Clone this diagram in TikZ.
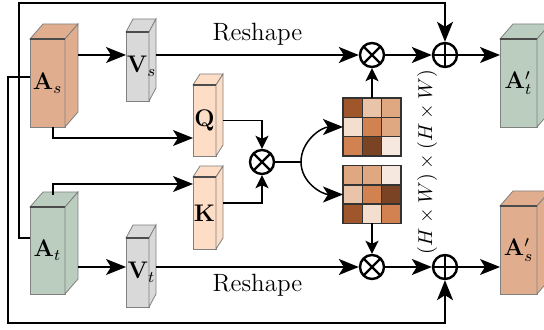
\documentclass[tikz,border=0pt]{standalone}
\usepackage{amsmath, amssymb}
\usepackage{xcolor}
\usepackage{tikz}
\usetikzlibrary{positioning, arrows.meta, calc}
\definecolor{srcbrown}{RGB}{224, 174, 142}
\definecolor{tgtgreen}{RGB}{187, 205, 191}
\definecolor{valgray}{RGB}{217, 217, 217}
\definecolor{qkpeach}{RGB}{253, 221, 198}
\definecolor{mapA}{RGB}{158, 86, 42}
\definecolor{mapB}{RGB}{122, 68, 36}
\definecolor{mapC}{RGB}{210, 130, 80}
\definecolor{mapD}{RGB}{223, 168, 128}
\definecolor{mapE}{RGB}{234, 196, 168}
\definecolor{mapF}{RGB}{244, 222, 206}
\definecolor{mapG}{RGB}{246, 232, 222}
\tikzset{
  face/.style={fill=#1, draw=black!50, line width=0.4pt},
  front/.style={face=#1, inner sep=0pt, outer sep=0pt},
  op/.style={circle, draw, line width=1.2pt, minimum size=12pt, inner sep=0pt},
  prodop/.style={op, path picture={
      \draw[line width=1.1pt] (path picture bounding box.north west) -- (path picture bounding box.south east)
        (path picture bounding box.south west) -- (path picture bounding box.north east);}},
  sumop/.style={op, path picture={
      \draw[line width=1.1pt] (path picture bounding box.north) -- (path picture bounding box.south)
        (path picture bounding box.west) -- (path picture bounding box.east);}},
  ln/.style={line width=0.75pt},
  arr/.style={ln, -{Stealth[length=10pt, width=8pt, inset=2.5pt]}},
  arrs/.style={ln, -{Stealth[length=6.5pt, width=6.5pt, inset=1.5pt]}},
  attmap/.style={minimum size=29pt, inner sep=0pt, outer sep=0pt},
  cell/.style={fill=#1, draw=black!80, line width=0.8pt},
  lbl/.style={inner sep=0pt, font=\fontsize{12}{14}\selectfont},
}
% top and side faces of a feature block, then its label on top
\newcommand{\cubefaces}[5]{%
  \filldraw[face=#4] (#1.north west) -- ++(#2,#3) -- ($(#1.north east)+(#2,#3)$) -- (#1.north east) -- cycle;
  \filldraw[face=#4] (#1.north east) -- ($(#1.north east)+(#2,#3)$) -- ($(#1.south east)+(#2,#3)$) -- (#1.south east) -- cycle;
  \draw[black!70, line width=0.8pt] (#1.north west) -- (#1.north east);
  \node[lbl] (#1-lbl) at (#1.center) {#5};
}

\begin{document}
\begin{tikzpicture}[x=0.5pt, y=-0.5pt, font=\fontsize{12.5}{15}\selectfont]
  \useasboundingbox (0,0) rectangle (544,330);
  % Source and target features
  \node[front=srcbrown, minimum width=17.5pt, minimum height=44pt] (As) at (47.5,83) {};
  \cubefaces{As}{13}{-15}{srcbrown}{$\mathbf{A}_s$}
  \node[front=tgtgreen, minimum width=17.5pt, minimum height=43.5pt] (At) at (47.5,250.5) {};
  \cubefaces{At}{13}{-15}{tgtgreen}{$\mathbf{A}_t$}
  % Values
  \node[front=valgray, minimum width=11.5pt, minimum height=34.5pt] (Vs) at (137.5,66.5) {};
  \cubefaces{Vs}{7}{-13}{valgray}{\hspace{4pt}$\mathbf{V}_s$}
  \node[front=valgray, minimum width=11.5pt, minimum height=34.5pt] (Vt) at (137.5,272.5) {};
  \cubefaces{Vt}{7}{-13}{valgray}{\hspace{4pt}$\mathbf{V}_t$}
  % Query and key
  \node[front=qkpeach, minimum width=11.5pt, minimum height=35.5pt] (Q) at (204.5,120.5) {};
  \cubefaces{Q}{7}{-11}{qkpeach}{$\mathbf{Q}$}
  \node[front=qkpeach, minimum width=11.5pt, minimum height=36pt] (K) at (204.5,213) {};
  \cubefaces{K}{7}{-11}{qkpeach}{$\mathbf{K}$}
  % Outputs
  \node[front=tgtgreen, minimum width=18.5pt, minimum height=44pt] (Atp) at (518.5,83) {};
  \cubefaces{Atp}{13}{-15}{tgtgreen}{$\mathbf{A}'_t$}
  \node[front=srcbrown, minimum width=18.5pt, minimum height=44pt] (Asp) at (518.5,250) {};
  \cubefaces{Asp}{13}{-15}{srcbrown}{$\mathbf{A}'_s$}
  % Operators
  \node[prodop] (mulQK) at (262,162) {};
  \node[prodop] (mulS) at (372,55) {};
  \node[prodop] (mulT) at (372,267) {};
  \node[sumop] (addT) at (445,55) {};
  \node[sumop] (addS) at (445,267) {};
  \coordinate (split) at (301,162);
  \coordinate (loopS) at (8,323);
  \coordinate (loopT) at (19,3);
  % Attention maps
  \node[attmap] (attS) at (372,127) {};
  \foreach \c [count=\i from 0] in {mapA,mapE,mapD, mapF,mapC,mapD, mapC,mapB,mapG} {
    \pgfmathtruncatemacro{\cx}{mod(\i,3)}
    \pgfmathtruncatemacro{\cy}{\i/3}
    \filldraw[cell=\c] ($(attS.north west)+(\cx*19.33,\cy*19.33)$) rectangle ++(19.33,19.33);
  }
  \node[attmap] (attT) at (372,194.5) {};
  \foreach \c [count=\i from 0] in {mapD,mapD,mapG, mapE,mapC,mapB, mapA,mapF,mapC} {
    \pgfmathtruncatemacro{\cx}{mod(\i,3)}
    \pgfmathtruncatemacro{\cy}{\i/3}
    \filldraw[cell=\c] ($(attT.north west)+(\cx*19.33,\cy*19.33)$) rectangle ++(19.33,19.33);
  }
  \node[rotate=90, font=\fontsize{10}{12}\selectfont] (dims) at (427,162) {$(H\times W)\times(H\times W)$};
  % Arrows
  \draw[arr] ($(As.east |- mulS)+(13,0)$) -- (Vs.west |- mulS);
  \draw[arr] ($(At.east |- mulT)+(13,0)$) -- (Vt.west |- mulT);
  \draw[arr] ([xshift=2.75pt]As.south) |- ([yshift=-8.75pt]Q.west);
  \draw[arr] ([xshift=2.75pt, yshift=6pt]At.north) |- ([yshift=14.5pt]K.west);
  \draw[arrs] ([xshift=3.5pt]Q.east) -| (mulQK.north);
  \draw[arrs] ([xshift=3.5pt, yshift=5pt]K.east) -| (mulQK.south);
  \draw[ln] (mulQK) -- (split);
  \draw[arr] (split) to[out=90, in=180] (attS.west);
  \draw[arr] (split) to[out=-90, in=180] (attT.west);
  \draw[arrs] (attS.north) -- (mulS.south);
  \draw[arrs] (attT.south) -- (mulT.north);
  \draw[arr] ($(Vs.east |- mulS)+(7,0)$) -- node[above, yshift=1pt]{Reshape} (mulS);
  \draw[arr] ($(Vt.east |- mulT)+(7,0)$) -- node[below]{Reshape} (mulT);
  \draw[arr] (mulS) -- (addT);
  \draw[arr] (mulT) -- (addS);
  \draw[arr] (addT) -- (Atp.west |- addT);
  \draw[arr] (addS) -- (Asp.west |- addS);
  \draw[arr] ([yshift=3pt]As.west) -| (loopS) -| (addS.south);
  \draw[arr] ([yshift=6.25pt]At.west) -| (loopT) -| (addT.north);
\end{tikzpicture}
\end{document}
